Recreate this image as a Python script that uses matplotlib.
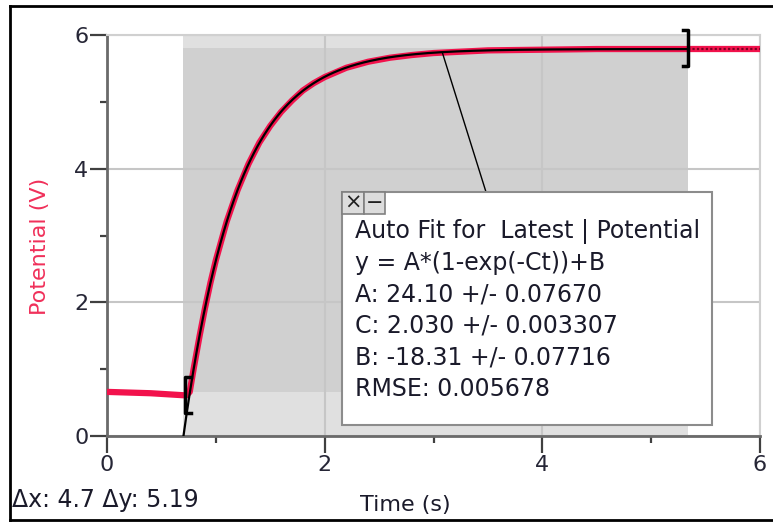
import matplotlib
matplotlib.use("Agg")
import matplotlib.pyplot as plt
import numpy as np
from matplotlib.patches import Rectangle, ConnectionPatch

plt.rcParams['font.family'] = ['DejaVu Sans']

# data
t_data = [0.0, 0.2, 0.4, 0.6, 0.70, 0.73, 0.76, 0.80, 0.85, 0.90, 0.95, 1.0, 1.1, 1.2,
          1.3, 1.4, 1.5, 1.6, 1.7, 1.8, 1.9, 2.0, 2.2, 2.4, 2.6, 2.8, 3.0, 3.5, 4.0,
          4.5, 5.0, 5.34]
v_data = [0.66, 0.65, 0.64, 0.62, 0.61, 0.61, 0.66, 1.04, 1.49, 1.91, 2.29, 2.63, 3.21, 3.68,
          4.07, 4.39, 4.64, 4.85, 5.02, 5.17, 5.28, 5.37, 5.51, 5.60, 5.66, 5.70, 5.73, 5.77, 5.78,
          5.79, 5.79, 5.79]
t_tail = [5.34, 6.0]
v_tail = [5.79, 5.79]

# fit parameters shown in the box
A, C, B = 24.10, 2.030, -18.31
fit_start, fit_end = 0.70, 5.34
sel_min, sel_max = 0.66, 5.80
delta_text = "\u0394x: 4.7 \u0394y: 5.19"
fit_lines = ["Auto Fit for  Latest | Potential",
             "y = A*(1-exp(-Ct))+B",
             "A: 24.10 +/- 0.07670",
             "C: 2.030 +/- 0.003307",
             "B: -18.31 +/- 0.07716",
             "RMSE: 0.005678"]

W, H = 773, 523
fig = plt.figure(figsize=(W / 100, H / 100), dpi=100)


def px(x, y):
    return x / W, 1 - y / H


l, b = px(107, 436)
r, t = px(760, 35)
ax = fig.add_axes([l, b, r - l, t - b])
ax.set_xlim(0, 6)
ax.set_ylim(0, 6)

red = '#f2124c'
# selection shading
ax.axvspan(fit_start, fit_end, color='#e0e0e0', zorder=0, lw=0)
ax.fill_between([fit_start, fit_end], sel_min, sel_max, color='#d0d0d0', zorder=0.5, lw=0)

ax.set_xticks([0, 2, 4, 6])
ax.set_yticks([0, 2, 4, 6])
ax.set_xticks([1, 3, 5], minor=True)
ax.set_yticks([1, 3, 5], minor=True)
ax.grid(True, which='major', color='#c6c6c6', lw=1.5, zorder=1)
ax.set_axisbelow(True)
for s in ['left', 'bottom']:
    ax.spines[s].set_color('#6a6a6a')
    ax.spines[s].set_linewidth(2)
for s in ['top', 'right']:
    ax.spines[s].set_color('#d0d0d0')
    ax.spines[s].set_linewidth(1.5)
ax.tick_params(which='major', length=12.5, width=1.6, color='#404040',
               labelsize=16, labelcolor='#262636', pad=1)
ax.tick_params(which='minor', length=5, width=1.6, color='#404040')

# data
ax.plot(t_data, v_data, color=red, lw=4.5, zorder=3, solid_capstyle='butt')
ax.plot(t_tail, v_tail, color=red, lw=4.5, zorder=3, solid_capstyle='butt')
ax.plot(t_tail, v_tail, color='#7a0020', lw=1.6, ls=(0, (1, 1)), zorder=4)

# fit curve
t_fit = np.linspace(fit_start, fit_end, 300)
v_fit = A * (1 - np.exp(-C * t_fit)) + B
ax.plot(t_fit, v_fit, color='black', lw=1.6, zorder=5)

# range brackets
for xb, yc, side in [(fit_start + 0.02, 0.62, 1), (fit_end, 5.80, -1)]:
    h = 0.27
    ax.plot([xb + side * 0.05, xb, xb, xb + side * 0.05], [yc + h, yc + h, yc - h, yc - h],
            color='black', lw=2.5, zorder=6, clip_on=False)

# fit box
bx0, by0 = px(342, 425)
bx1, by1 = px(712, 192)
fig.patches.append(Rectangle((bx0, by0), bx1 - bx0, by1 - by0, transform=fig.transFigure,
                             facecolor='white', edgecolor='#8c8c8c', lw=1.5, zorder=10))
for i, sym in enumerate(['\u00d7', '\u2212']):
    x0, y0 = px(342 + 21.5 * i, 214)
    x1, y1 = px(342 + 21.5 * (i + 1), 192)
    fig.patches.append(Rectangle((x0, y0), x1 - x0, y1 - y0, transform=fig.transFigure,
                                 facecolor='#dcdcdc', edgecolor='#808080', lw=1.2, zorder=11))
    fig.text((x0 + x1) / 2, (y0 + y1) / 2, sym, ha='center', va='center', fontsize=15,
             color='#202020', zorder=12)
for i, line in enumerate(fit_lines):
    fig.text(*px(355, 231 + 31.6 * i), line, ha='left', va='center', fontsize=17,
             color='#1a1a2a', zorder=12)

# connector from curve to box
t_conn = 3.08
con = ConnectionPatch(xyA=(t_conn, A * (1 - np.exp(-C * t_conn)) + B), coordsA=ax.transData,
                      xyB=px(486, 192), coordsB=fig.transFigure, color='black', lw=1, zorder=9)
fig.add_artist(con)

# labels
fig.text(*px(40, 246), 'Potential (V)', rotation=90, ha='center', va='center',
         fontsize=16, color='#f0305a')
fig.text(*px(405, 505), 'Time (s)', ha='center', va='center', fontsize=16, color='#1a1a2a')
fig.text(*px(12, 500), delta_text, ha='left', va='center', fontsize=17, color='#1a1a2a')

# outer frame
for xs, ys in [([10, 10], [6, 520]), ([10, 773], [6, 6]), ([10, 773], [520, 520])]:
    fig.add_artist(plt.Line2D([x / W for x in xs], [1 - y / H for y in ys],
                              transform=fig.transFigure, color='black', lw=2))

fig.savefig('out.png', dpi=100)
